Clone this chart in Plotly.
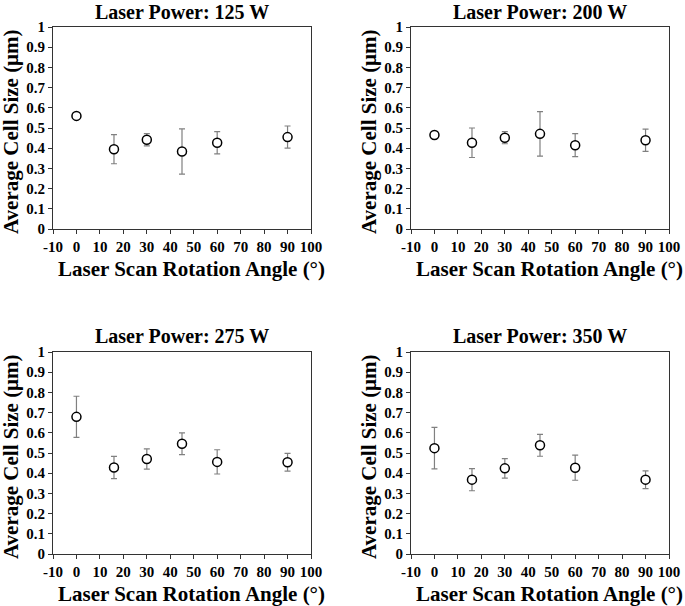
import plotly.graph_objects as go

angles = [0, 16, 30, 45, 60, 90]
powers = ["125 W", "200 W", "275 W", "350 W"]
cell_125 = [0.560, 0.395, 0.442, 0.384, 0.427, 0.455]
err_125 = [0.015, 0.072, 0.030, 0.112, 0.055, 0.055]
cell_200 = [0.465, 0.427, 0.452, 0.471, 0.415, 0.439]
err_200 = [0.018, 0.073, 0.030, 0.110, 0.057, 0.055]
cell_275 = [0.679, 0.428, 0.470, 0.546, 0.456, 0.454]
err_275 = [0.102, 0.055, 0.050, 0.054, 0.060, 0.044]
cell_350 = [0.524, 0.368, 0.424, 0.538, 0.427, 0.368]
err_350 = [0.103, 0.055, 0.048, 0.054, 0.062, 0.044]
x_ticks = [-10, 0, 10, 20, 30, 40, 50, 60, 70, 80, 90, 100]
y_ticks = [0, 0.1, 0.2, 0.3, 0.4, 0.5, 0.6, 0.7, 0.8, 0.9, 1]

W, H = 685, 606
FONT = "Liberation Serif"

panels = [
    (cell_125, err_125, powers[0], (53, 311), (27, 229)),
    (cell_200, err_200, powers[1], (411, 669), (27, 229)),
    (cell_275, err_275, powers[2], (53, 311), (352, 554)),
    (cell_350, err_350, powers[3], (411, 669), (352, 554)),
]

fig = go.Figure()
annotations = []
for i, (vals, errs, pw, (x0, x1), (y0, y1)) in enumerate(panels):
    n = "" if i == 0 else str(i + 1)
    fig.add_trace(go.Scatter(
        x=angles, y=vals, mode="markers",
        xaxis="x" + n, yaxis="y" + n,
        marker=dict(symbol="circle", size=9, color="white",
                    line=dict(color="black", width=1.5)),
        error_y=dict(type="data", array=errs, visible=True,
                     color="#808080", thickness=1.2, width=3),
        showlegend=False, cliponaxis=False,
    ))
    xd = [x0 / W, x1 / W]
    yd = [1 - y1 / H, 1 - y0 / H]
    axcommon = dict(showline=True, linecolor="#333333", linewidth=1, mirror=True,
                    ticks="outside", ticklen=4, tickcolor="#333333", showgrid=False,
                    zeroline=False, automargin=False,
                    tickfont=dict(family=FONT, size=15, color="black", weight="bold"))
    fig.update_layout(**{
        "xaxis" + n: dict(domain=xd, range=[-10, 100], tickvals=x_ticks,
                          ticktext=[str(v) for v in x_ticks], anchor="y" + n,
                          **axcommon),
        "yaxis" + n: dict(domain=yd, range=[0, 1], tickvals=y_ticks,
                          ticktext=[("%g" % v) for v in y_ticks], anchor="x" + n,
                          **axcommon),
    })
    cx = (x0 + x1) / 2 / W
    # panel title
    top = 0 if y0 < 100 else y0 - 28
    annotations.append(dict(text="Laser Power: " + pw, x=cx, y=1 - top / H,
                            xref="paper", yref="paper", showarrow=False,
                            font=dict(family=FONT, size=20, color="black", weight="bold"),
                            xanchor="center", yanchor="top", borderpad=0))
    # x title
    annotations.append(dict(text="Laser Scan Rotation Angle (°)", x=(x1 - 120) / W,
                            y=1 - (y1 + 40) / H,
                            xref="paper", yref="paper", showarrow=False,
                            font=dict(family=FONT, size=21, color="black", weight="bold"),
                            xanchor="center", yanchor="middle"))
    # y title
    annotations.append(dict(text="Average Cell Size (μm)", x=(x0 - 42) / W,
                            y=1 - ((y0 + y1) / 2 + 4) / H,
                            xref="paper", yref="paper", showarrow=False, textangle=-90,
                            font=dict(family=FONT, size=21, color="black", weight="bold"),
                            xanchor="center", yanchor="middle"))

fig.update_layout(width=W, height=H, margin=dict(l=0, r=0, t=0, b=0),
                  paper_bgcolor="white", plot_bgcolor="white",
                  annotations=annotations)
fig.write_html("out.html", config={"displayModeBar": False},
               post_script="document.body.style.margin='0';document.body.style.overflow='hidden';")
